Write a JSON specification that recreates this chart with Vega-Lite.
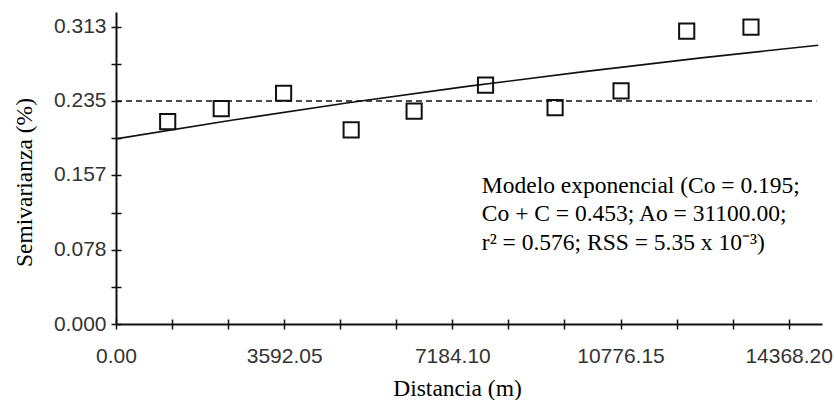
{
  "$schema": "https://vega.github.io/schema/vega-lite/v6.json",
  "width": 706,
  "height": 312,
  "autosize": {"type": "none"},
  "padding": {"left": 116, "top": 12, "right": 12, "bottom": 76},
  "background": "white",
  "config": {"view": {"stroke": null}, "axis": {"grid": false}},
  "datasets": {
    "obs": [
      {"dist": 1104, "gamma": 0.2132},
      {"dist": 2248, "gamma": 0.2269},
      {"dist": 3580, "gamma": 0.2431},
      {"dist": 5023, "gamma": 0.2045},
      {"dist": 6368, "gamma": 0.2242},
      {"dist": 7893, "gamma": 0.2516},
      {"dist": 9379, "gamma": 0.2280},
      {"dist": 10788, "gamma": 0.2456},
      {"dist": 12190, "gamma": 0.3085},
      {"dist": 13563, "gamma": 0.3127}
    ],
    "model": [
      {"dist": 0, "gamma": 0.195},
      {"dist": 2500, "gamma": 0.2149},
      {"dist": 5000, "gamma": 0.2333},
      {"dist": 7500, "gamma": 0.2503},
      {"dist": 10000, "gamma": 0.2659},
      {"dist": 12500, "gamma": 0.2804},
      {"dist": 15000, "gamma": 0.2937}
    ]
  },
  "layer": [
    {
      "data": {"values": [{}]},
      "mark": {"type": "rule", "strokeDash": [6, 4], "strokeWidth": 1.6, "color": "#111"},
      "encoding": {
        "x": {
          "datum": 0, "type": "quantitative",
          "scale": {"domain": [0, 15080], "nice": false, "zero": false},
          "axis": {
            "orient": "bottom",
            "values": [0, 3592.05, 7184.1, 10776.15, 14368.2],
            "format": ".2f",
            "ticks": false, "tickSize": 0,
            "domain": true, "domainColor": "#111", "domainWidth": 2,
            "labelFont": "Liberation Sans", "labelFontSize": 21, "labelColor": "#333",
            "labelPadding": 21, "labelFlush": false, "labelOverlap": false,
            "title": "Distancia (m)",
            "titleFont": "Liberation Serif", "titleFontSize": 23.5, "titleFontWeight": "normal", "titleColor": "#000",
            "titleX": 341, "titleY": 71, "titleBaseline": "alphabetic", "titleAlign": "center", "titleAnchor": null
          }
        },
        "x2": {"datum": 14960},
        "y": {
          "datum": 0.235, "type": "quantitative",
          "scale": {"domain": [0, 0.3287], "nice": false, "zero": false},
          "axis": {
            "orient": "left",
            "values": [0, 0.078, 0.157, 0.235, 0.313],
            "format": ".3f",
            "ticks": false, "tickSize": 0,
            "domain": true, "domainColor": "#111", "domainWidth": 2,
            "labelFont": "Liberation Sans", "labelFontSize": 21, "labelColor": "#333",
            "labelPadding": 10, "labelFlush": false, "labelOverlap": false,
            "title": "Semivarianza (%)",
            "titleFont": "Liberation Serif", "titleFontSize": 23.5, "titleFontWeight": "normal", "titleColor": "#000",
            "titleAngle": 270, "titleX": -85, "titleY": 170, "titleBaseline": "alphabetic", "titleAlign": "center"
          }
        }
      }
    },
    {
      "data": {"name": "model"},
      "mark": {"type": "line", "color": "#111", "strokeWidth": 1.6},
      "encoding": {
        "x": {
          "field": "dist", "type": "quantitative",
          "scale": {"domain": [0, 15080], "nice": false, "zero": false},
          "axis": {
            "orient": "bottom",
            "values": [0, 1197.35, 2394.7, 3592.05, 4789.4, 5986.75, 7184.1, 8381.45, 9578.8, 10776.15, 11973.5, 13170.85, 14368.2],
            "labels": false, "domain": false, "ticks": true,
            "tickSize": 10, "tickWidth": 1.5, "tickColor": "#111",
            "offset": -5, "title": null
          }
        },
        "y": {
          "field": "gamma", "type": "quantitative",
          "scale": {"domain": [0, 0.3287], "nice": false, "zero": false},
          "axis": {
            "orient": "left",
            "values": [0, 0.039125, 0.07825, 0.117375, 0.1565, 0.195625, 0.23475, 0.273875, 0.313],
            "labels": false, "domain": false, "ticks": true,
            "tickSize": 10, "tickWidth": 1.5, "tickColor": "#111",
            "offset": -5, "title": null
          }
        }
      }
    },
    {
      "data": {"name": "obs"},
      "mark": {"type": "point", "shape": "square", "filled": false, "stroke": "#111", "strokeWidth": 2, "size": 230, "opacity": 1},
      "encoding": {
        "x": {"field": "dist", "type": "quantitative", "scale": {"domain": [0, 15080], "nice": false, "zero": false}, "axis": null},
        "y": {"field": "gamma", "type": "quantitative", "scale": {"domain": [0, 0.3287], "nice": false, "zero": false}, "axis": null}
      }
    },
    {
      "data": {"values": [{}]},
      "mark": {
        "type": "text", "align": "left", "baseline": "alphabetic",
        "font": "Liberation Serif", "fontSize": 23.5, "color": "#000", "lineHeight": 28.5
      },
      "encoding": {
        "x": {"datum": 7814, "type": "quantitative", "axis": null},
        "y": {"datum": 0.1381, "type": "quantitative", "axis": null},
        "text": {"value": ["Modelo exponencial (Co = 0.195;", "Co + C = 0.453; Ao = 31100.00;", "r² = 0.576; RSS = 5.35 x 10⁻³)"]}
      }
    }
  ],
  "resolve": {"axis": {"x": "independent", "y": "independent"}}
}
